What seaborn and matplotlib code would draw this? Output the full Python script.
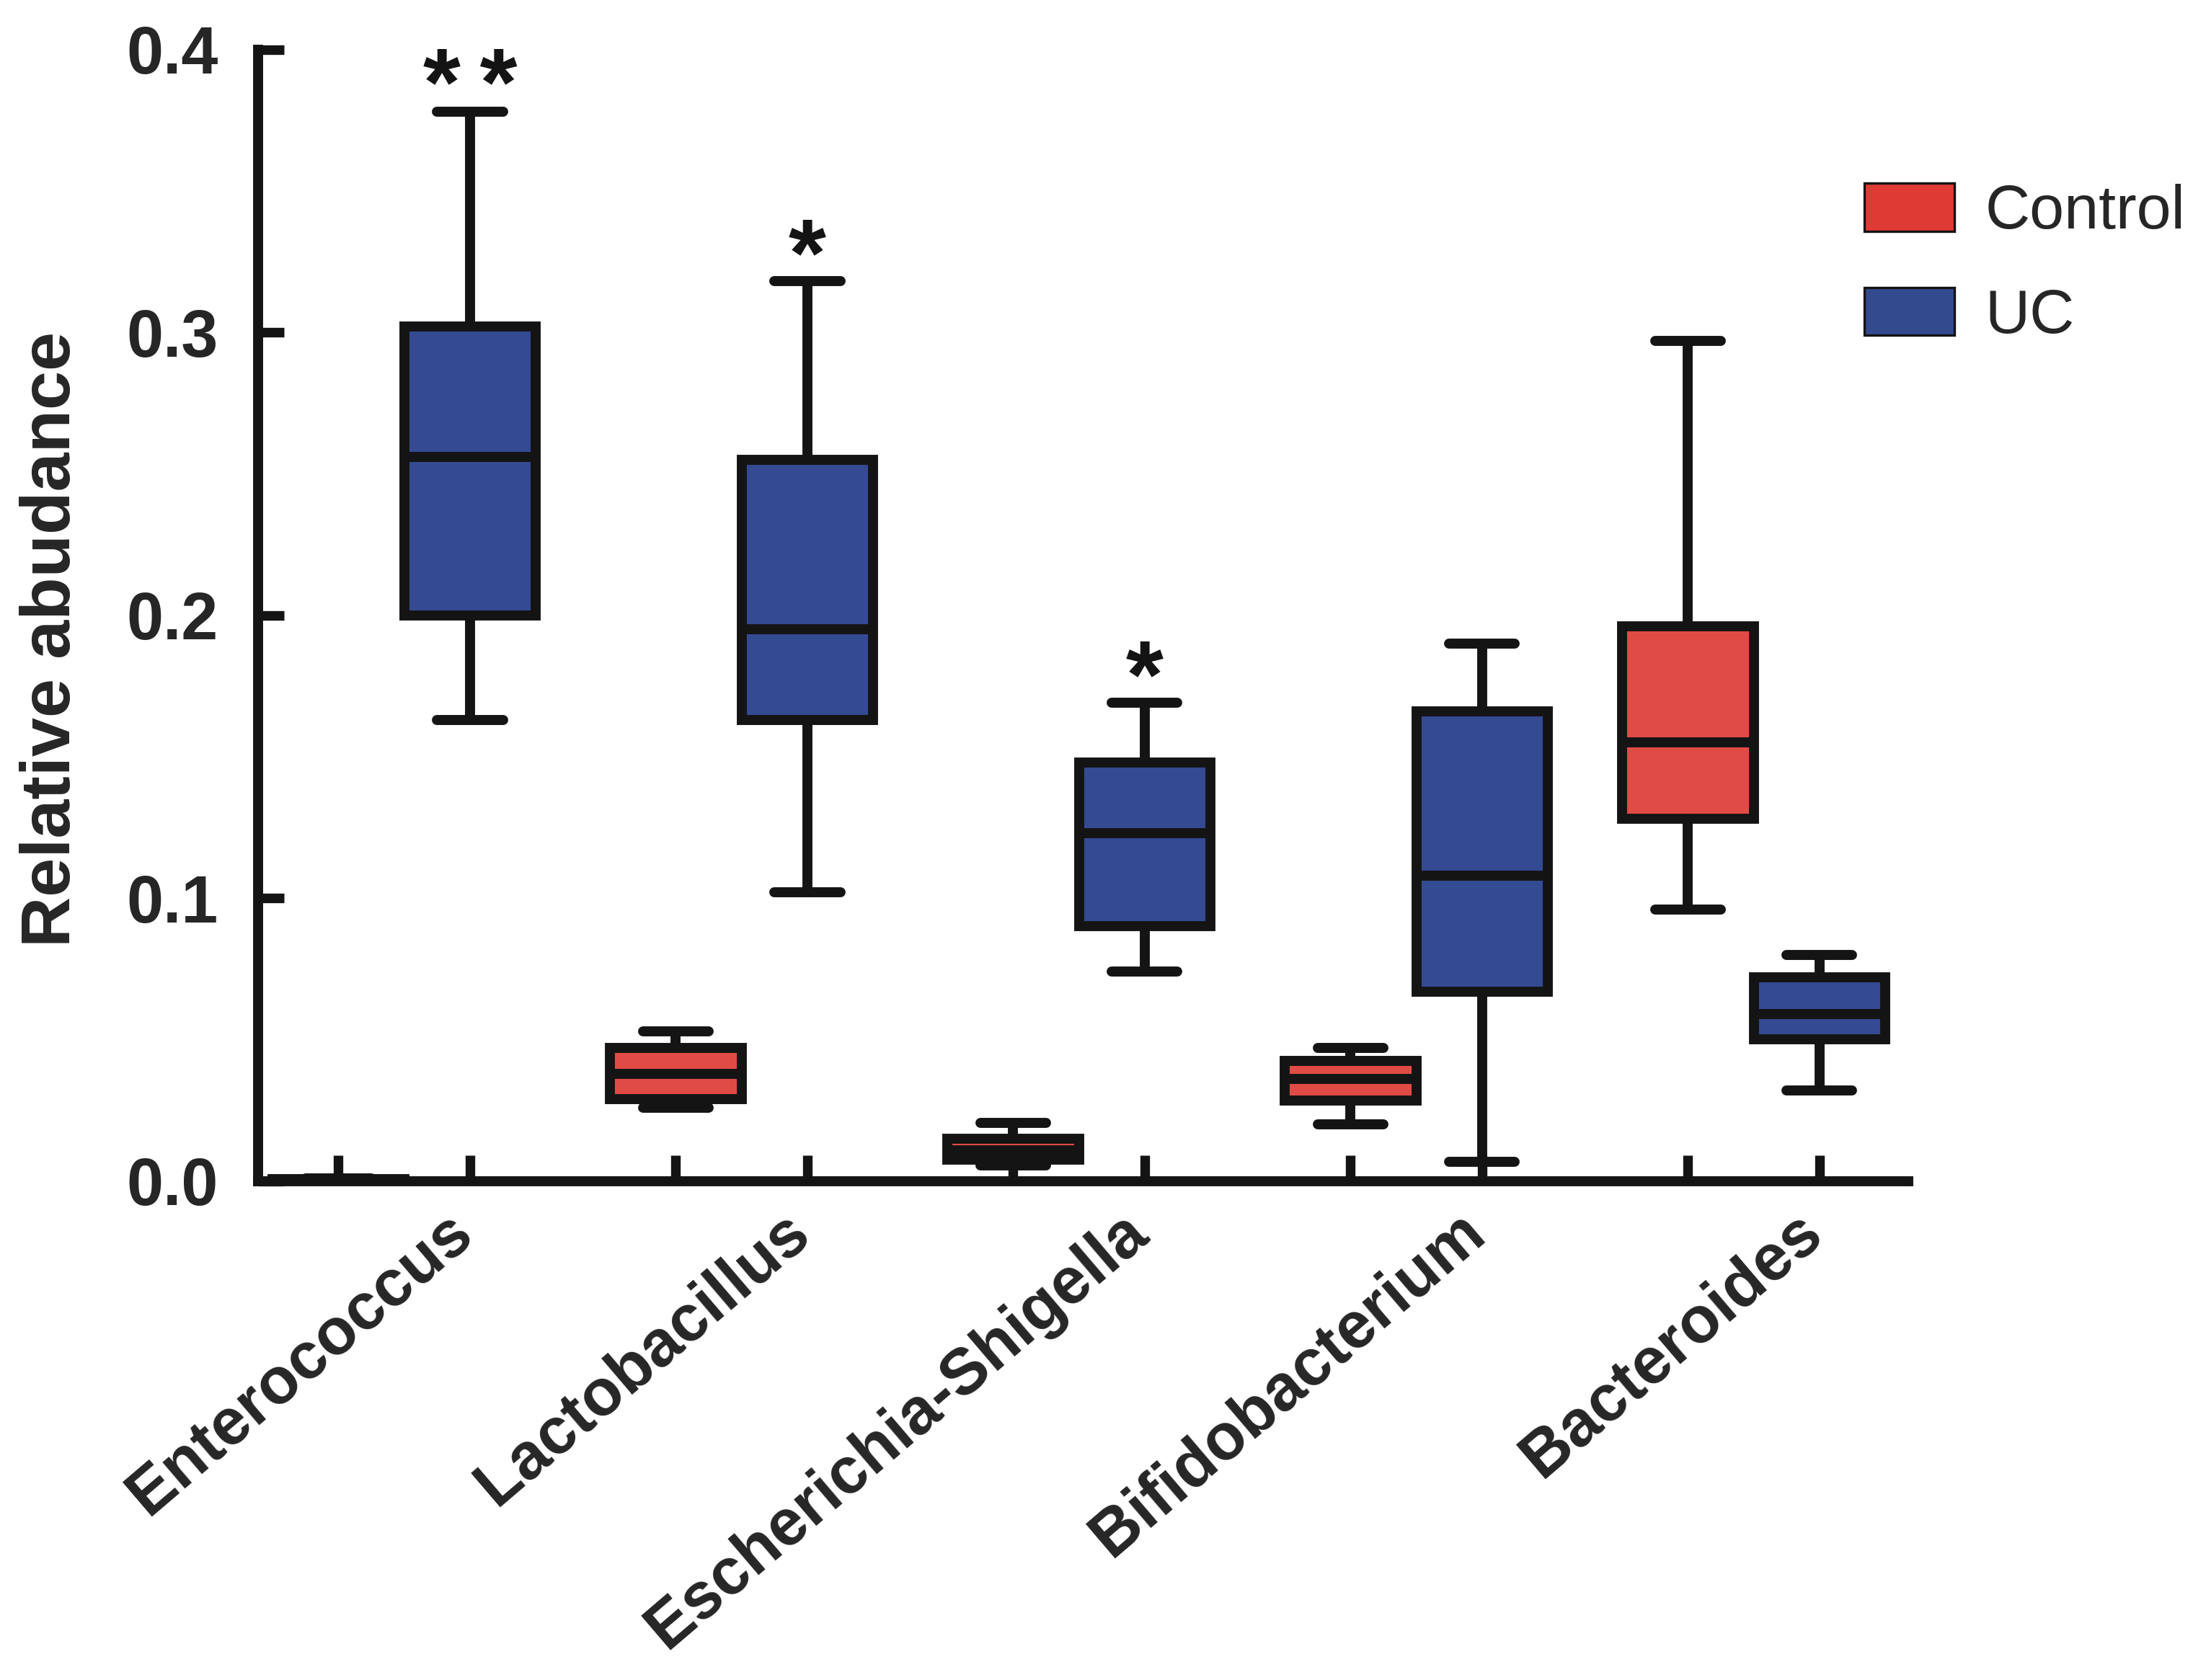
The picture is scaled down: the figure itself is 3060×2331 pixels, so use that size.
import numpy as np
import pandas as pd
import seaborn as sns
import matplotlib.pyplot as plt
from matplotlib.patches import Patch
from matplotlib.transforms import ScaledTranslation

# genera on the x axis and the two groups
genera = ['Enterococcus', 'Lactobacillus', 'Escherichia-Shigella', 'Bifidobacterium', 'Bacteroides']
groups = ['Control', 'UC']

# five-number summaries: [min, Q1, median, Q3, max]
control_stats = [
    [0.0, 0.0002, 0.0005, 0.0008, 0.001],
    [0.026, 0.029, 0.038, 0.047, 0.053],
    [0.0055, 0.0075, 0.011, 0.015, 0.0205],
    [0.020, 0.0285, 0.036, 0.0425, 0.047],
    [0.096, 0.128, 0.155, 0.196, 0.297],
]
uc_stats = [
    [0.163, 0.200, 0.256, 0.302, 0.378],
    [0.102, 0.163, 0.195, 0.255, 0.318],
    [0.074, 0.090, 0.123, 0.148, 0.169],
    [0.0068, 0.067, 0.108, 0.166, 0.190],
    [0.032, 0.050, 0.059, 0.072, 0.080],
]
sig_marks = ['*\u2009*', '*', '*', '', '']

box_colors = {'Control': '#E04B45', 'UC': '#344A92'}
legend_colors = ['#E03A35', '#344A8F']

# long-form table, five points per box give exactly the five-number summary
rows = []
for g, cs, us in zip(genera, control_stats, uc_stats):
    for v in cs:
        rows.append((g, 'Control', v))
    for v in us:
        rows.append((g, 'UC', v))
df = pd.DataFrame(rows, columns=['genus', 'group', 'abundance'])

sns.set_style('ticks')
plt.rcParams['font.family'] = ['Liberation Sans', 'DejaVu Sans']
plt.rcParams['font.weight'] = 'bold'

fig = plt.figure(figsize=(15.3, 11.655), dpi=200)
ax = fig.add_axes([0.117, 0.297, 0.748, 0.6736])

box_w = 0.78
ink = '#141414'
sns.boxplot(data=df, x='genus', y='abundance', hue='group', order=genera, hue_order=groups,
            palette=box_colors, saturation=1, width=box_w, gap=0, whis=(0, 100),
            linewidth=5, linecolor=ink, fliersize=0, legend=False, ax=ax)

ax.set_xlim(-0.433, 4.458)
ax.set_ylim(0, 0.4)
ax.set_yticks(np.arange(0, 0.41, 0.1))
ax.set_yticklabels([f'{t:.1f}' for t in np.arange(0, 0.41, 0.1)])
ax.set_xlabel('')
ax.set_ylabel('Relative abudance', fontsize=35, fontweight='bold')
ax.yaxis.set_label_coords(-0.125, 0.479)
ax.yaxis.label.set_va('center')

# ticks at each box position, labels at group centres
offs = box_w / 4
ax.set_xticks([i + d for i in range(len(genera)) for d in (-offs, offs)], minor=True)
ax.set_xticks(range(len(genera)))
ax.set_xticklabels(genera, rotation=40.5, ha='right', va='center', rotation_mode='anchor',
                   fontsize=32.5, fontweight='bold')
ax.tick_params(axis='x', which='major', length=0, pad=0)
ax.tick_params(axis='x', which='minor', direction='in', length=13, width=4.8, color=ink)
ax.tick_params(axis='y', direction='in', length=13, width=4.8, color=ink, labelsize=33, pad=20)
shift = ScaledTranslation(30 / 72, -21.5 / 72, fig.dpi_scale_trans)
for lab in ax.get_xticklabels():
    lab.set_transform(lab.get_transform() + shift)

sns.despine(ax=ax)
for side in ['left', 'bottom']:
    ax.spines[side].set_linewidth(5)
    ax.spines[side].set_color(ink)

# significance marks above the UC whiskers
for i, mark in enumerate(sig_marks):
    if mark:
        ax.annotate(mark, xy=(i + offs, uc_stats[i][4]), xytext=(0, -2),
                    textcoords='offset points', ha='center', va='baseline',
                    fontsize=48, fontweight='bold', color=ink)

handles = [Patch(facecolor=c, edgecolor=ink, linewidth=1.2) for c in legend_colors]
fig.legend(handles, groups, loc='upper left', bbox_to_anchor=(0.845, 0.891), frameon=False,
           borderpad=0, borderaxespad=0, handlelength=1.45, handleheight=0.81,
           handletextpad=0.5, labelspacing=0.74, prop={'size': 31, 'weight': 'normal'})

fig.savefig('out.png', dpi=200)
